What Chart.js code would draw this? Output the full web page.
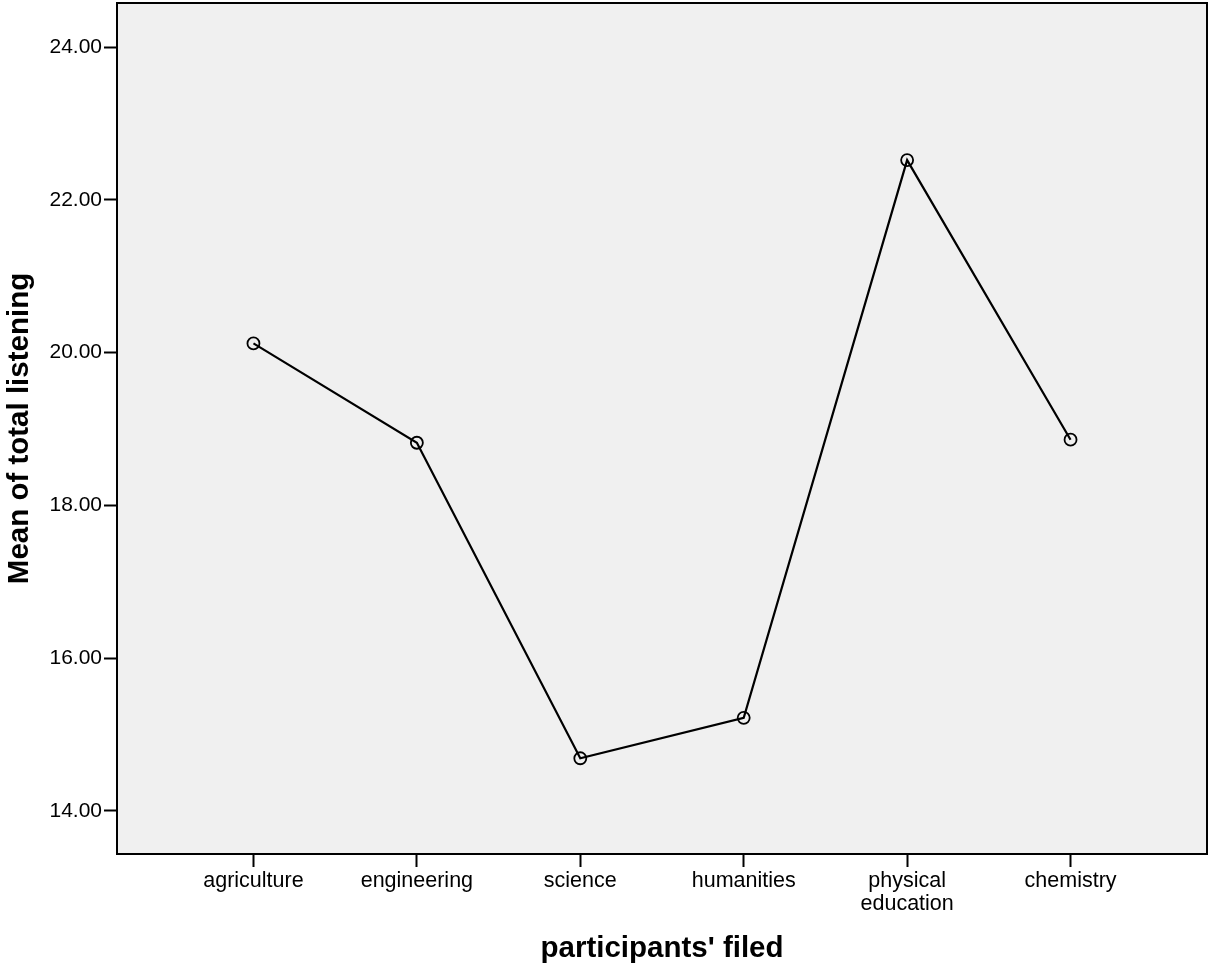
<!DOCTYPE html>
<html>
<head>
<meta charset="utf-8">
<script src="https://cdn.jsdelivr.net/npm/chart.js@4"></script>
<style>
  html, body { margin: 0; padding: 0; background: #fff; }
  #wrap { width: 1209px; height: 969px; }
</style>
</head>
<body>
<div id="wrap"><canvas id="grafico"></canvas></div>
<script>
// Datos del gráfico
const campos = ['agriculture', 'engineering', 'science', 'humanities', 'physical education', 'chemistry'];
const medias = [20.12, 18.82, 14.69, 15.22, 22.52, 18.86];
const ticksY = [14, 16, 18, 20, 22, 24];

const fuente = "'Liberation Sans', Arial, sans-serif";

// Fondo gris y marco alrededor del área del gráfico
const marco = {
    id: 'marco',
    beforeDraw(chart) {
        const { ctx, chartArea: a } = chart;
        ctx.save();
        ctx.fillStyle = '#f0f0f0';
        ctx.fillRect(a.left, a.top, a.right - a.left, a.bottom - a.top);
        ctx.restore();
    },
    afterDraw(chart) {
        const { ctx, chartArea: a } = chart;
        ctx.save();
        ctx.strokeStyle = '#000';
        ctx.lineWidth = 2;
        ctx.strokeRect(a.left, a.top, a.right - a.left, a.bottom - a.top);
        ctx.restore();
    }
};

// Quitar el relleno extra que Chart.js reserva para las etiquetas
function sinRelleno(axis) {
    axis.paddingTop = 0;
    axis.paddingBottom = 0;
    axis.paddingLeft = 0;
    axis.paddingRight = 0;
}

let ctx = document.getElementById('grafico').getContext('2d');
new Chart(ctx, {
    type: 'line',
    data: {
        datasets: [{
            data: medias.map((v, i) => ({ x: i, y: v })),
            borderColor: '#000',
            borderWidth: 2.2,
            pointRadius: 6,
            pointBorderWidth: 1.8,
            pointBorderColor: '#000',
            pointBackgroundColor: 'rgba(0,0,0,0)',
            tension: 0,
            fill: false
        }]
    },
    options: {
        responsive: true,
        maintainAspectRatio: false,
        animation: false,
        layout: { autoPadding: false, padding: { top: 3, right: 2, left: 0, bottom: 0 } },
        plugins: {
            legend: { display: false },
            tooltip: { enabled: false }
        },
        scales: {
            x: {
                type: 'linear',
                min: -0.835,
                max: 5.835,
                afterBuildTicks: axis => { axis.ticks = campos.map((c, i) => ({ value: i })); },
                afterFit: axis => { axis.height = 115; sinRelleno(axis); },
                grid: { drawOnChartArea: false, tickLength: 13, tickColor: '#000', tickWidth: 2 },
                border: { color: '#000', width: 2 },
                ticks: {
                    padding: 3,
                    color: '#000',
                    maxRotation: 0,
                    autoSkip: false,
                    font: { family: fuente, size: 21.5, lineHeight: 1.05 },
                    callback: v => {
                        const c = campos[v];
                        if (!c) return '';
                        return c === 'physical education' ? ['physical', 'education'] : c;
                    }
                },
                title: {
                    display: true,
                    text: "participants' filed",
                    color: '#000',
                    font: { family: fuente, size: 29.5, weight: 'bold' },
                    padding: { top: 10, bottom: 2 }
                }
            },
            y: {
                min: 13.437,
                max: 24.576,
                afterBuildTicks: axis => { axis.ticks = ticksY.map(v => ({ value: v })); },
                afterFit: axis => { axis.width = 117; sinRelleno(axis); },
                grid: { drawOnChartArea: false, tickLength: 13, tickColor: '#000', tickWidth: 2 },
                border: { color: '#000', width: 2 },
                ticks: {
                    padding: 2,
                    color: '#000',
                    font: { family: fuente, size: 21 },
                    callback: v => v.toFixed(2)
                },
                title: {
                    display: true,
                    text: 'Mean of total listening',
                    color: '#000',
                    font: { family: fuente, size: 29.5, weight: 'bold' },
                    padding: { top: 2, bottom: 4 }
                }
            }
        }
    },
    plugins: [marco]
});
</script>
</body>
</html>
